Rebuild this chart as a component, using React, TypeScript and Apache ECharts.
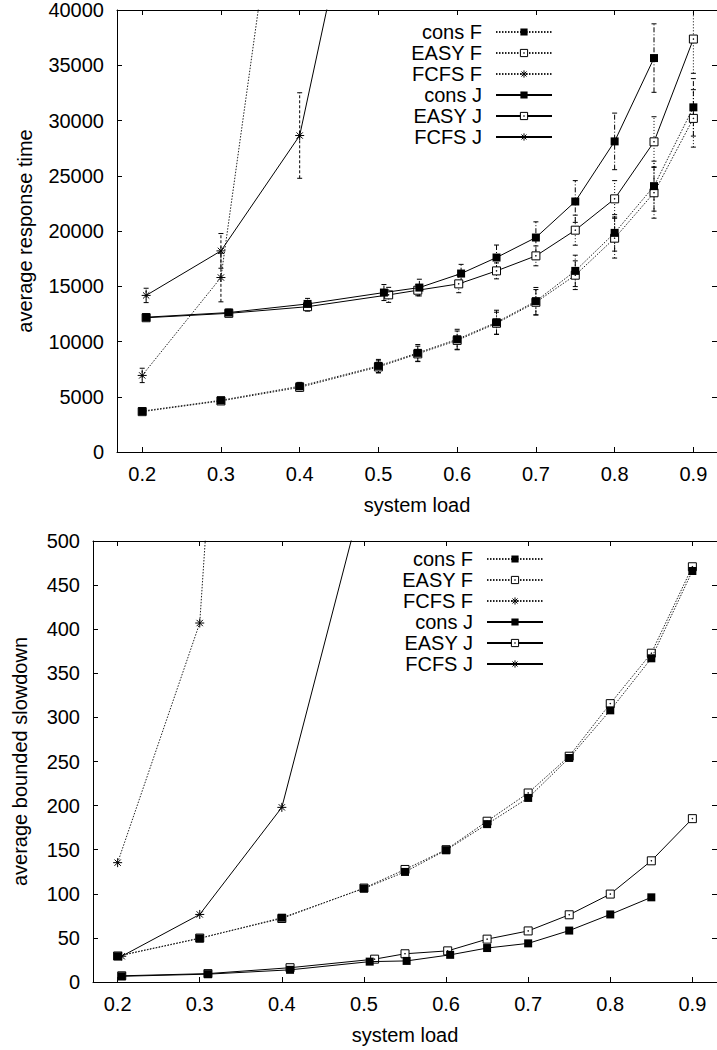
import React, { useEffect, useRef } from "react";
import * as echarts from "echarts";

// ---------- shared ----------
const seriesNames = ["cons F", "EASY F", "FCFS F", "cons J", "EASY J", "FCFS J"];
const xTickValues = [0.2, 0.3, 0.4, 0.5, 0.6, 0.7, 0.8, 0.9];

const xConsF = [0.2, 0.3, 0.4, 0.5, 0.55, 0.6, 0.65, 0.7, 0.75, 0.8, 0.85, 0.9];
const xEasyF = [0.2, 0.3, 0.4, 0.5, 0.55, 0.6, 0.65, 0.7, 0.75, 0.8, 0.85, 0.9];
const xFcfsF = [0.2, 0.3, 0.4];
const xConsJ = [0.205, 0.31, 0.41, 0.507, 0.552, 0.605, 0.65, 0.7, 0.75, 0.8, 0.85];
const xEasyJ = [0.205, 0.31, 0.41, 0.513, 0.55, 0.602, 0.65, 0.7, 0.75, 0.8, 0.85, 0.9];
const xFcfsJ = [0.205, 0.3, 0.4, 0.5];

// ---------- top chart: average response time ----------
const rtConsF = [3700, 4680, 5950, 7790, 8970, 10200, 11740, 13650, 16390, 19830, 24060, 31190];
const rtConsFErr = [250, 250, 350, 590, 755, 905, 1090, 1240, 1420, 1650, 2260, 2600];
const rtEasyF = [3650, 4620, 5850, 7700, 8880, 10100, 11650, 13550, 16000, 19350, 23460, 30190];
const rtEasyFErr = [250, 250, 350, 550, 700, 850, 1000, 1150, 1300, 1800, 2300, 2600];
const rtFcfsF = [6930, 15790, 66900];
const rtFcfsFErr = [650, 2200, 8000];
const rtConsJ = [12200, 12620, 13400, 14430, 14880, 16150, 17600, 19410, 22670, 28110, 35650];
const rtConsJErr = [300, 300, 500, 725, 755, 830, 1130, 1420, 1890, 2560, 3100];
const rtEasyJ = [12150, 12550, 13150, 14220, 14640, 15215, 16390, 17750, 20075, 22910, 28070, 37370];
const rtEasyJErr = [300, 300, 400, 680, 500, 800, 720, 900, 1360, 1650, 2270, 3100];
const rtFcfsJ = [14170, 18200, 28640, 61760];
const rtFcfsJErr = [650, 1570, 3870, 6000];

// ---------- bottom chart: average bounded slowdown ----------
const sdConsF = [29.2, 49.4, 72.9, 106, 124.8, 149.5, 179, 208.7, 254, 308, 367, 466];
const sdEasyF = [29.5, 49.8, 72, 106.5, 127.6, 150, 182.3, 214.3, 256, 315.6, 372.8, 470.8];
const sdFcfsF = [135.3, 407, 1800];
const sdConsJ = [6.5, 8.9, 13.8, 23.1, 23.9, 30.8, 38.5, 43.8, 58.3, 76.6, 96];
const sdEasyJ = [7, 9.5, 16.2, 25.9, 32, 35.3, 48.6, 57.9, 76.2, 99.7, 137.4, 185.2];
const sdFcfsJ = [29.2, 76.6, 198, 556];

const FONT = "'Liberation Sans', Arial, Helvetica, sans-serif";
const OPEN_SQUARE = "path://M0,0L10,0L10,10L0,10Z M4.6,4.6L5.4,4.6L5.4,5.4L4.6,5.4Z";
const STAR = "path://M5,0L5,10M0,5L10,5M1.5,1.5L8.5,8.5M8.5,1.5L1.5,8.5";

type Kind = "cons" | "EASY" | "FCFS";

function markerStyle(kind: Kind) {
  if (kind === "cons") return { symbol: "rect", symbolSize: 8, itemStyle: { color: "#000" } };
  if (kind === "EASY")
    return {
      symbol: OPEN_SQUARE,
      symbolSize: 8,
      itemStyle: { color: "#fff", borderColor: "#000", borderWidth: 1 },
    };
  return {
    symbol: STAR,
    symbolSize: 9,
    itemStyle: { color: "rgba(0,0,0,0)", borderColor: "#000", borderWidth: 1 },
  };
}

function lineSeries(name: string, kind: Kind, dotted: boolean, xs: number[], ys: number[], axis: number) {
  return {
    type: "line",
    name,
    xAxisIndex: axis * 2,
    yAxisIndex: axis * 2,
    data: xs.map((x, i) => [x, ys[i]]),
    ...markerStyle(kind),
    showAllSymbol: true,
    clip: true,
    silent: true,
    z: kind === "cons" ? 4 : 3,
    emphasis: { disabled: true },
    lineStyle: dotted
      ? { color: "#222", width: 1, type: [1.5, 1.5] }
      : { color: "#000", width: 1, type: "solid" },
  };
}

function errorSeries(id: string, xs: number[], ys: number[], errs: number[], dash: number[]) {
  return {
    type: "custom",
    name: id,
    xAxisIndex: 0,
    yAxisIndex: 0,
    clip: true,
    silent: true,
    z: 2,
    data: xs.map((x, i) => [x, ys[i] - errs[i], ys[i] + errs[i]]),
    encode: { x: 0, y: [1, 2] },
    renderItem: (_params: any, api: any) => {
      const lo = api.coord([api.value(0), api.value(1)]);
      const hi = api.coord([api.value(0), api.value(2)]);
      const w = 2.5;
      return {
        type: "group",
        children: [
          {
            type: "line",
            shape: { x1: lo[0], y1: lo[1], x2: hi[0], y2: hi[1] },
            style: { stroke: "#000", lineWidth: 1, lineDash: dash },
          },
          {
            type: "line",
            shape: { x1: lo[0] - w, y1: lo[1], x2: lo[0] + w, y2: lo[1] },
            style: { stroke: "#000", lineWidth: 1 },
          },
          {
            type: "line",
            shape: { x1: hi[0] - w, y1: hi[1], x2: hi[0] + w, y2: hi[1] },
            style: { stroke: "#000", lineWidth: 1 },
          },
        ],
      };
    },
  };
}

function xAxes(gridIndex: number, min: number, max: number, name: string) {
  const common = {
    type: "value",
    gridIndex,
    min,
    max,
    splitLine: { show: false },
    axisLine: { show: true, onZero: false, lineStyle: { color: "#000", width: 1 } },
    axisTick: { show: true, inside: true, length: 5, customValues: xTickValues, lineStyle: { color: "#000" } },
  };
  return [
    {
      ...common,
      position: "bottom",
      axisLabel: {
        show: true,
        customValues: xTickValues,
        formatter: (v: number) => v.toFixed(1),
        color: "#000",
        fontSize: 20,
        fontFamily: FONT,
        margin: 12,
      },
      name,
      nameLocation: "middle",
      nameGap: 43,
      nameTextStyle: { color: "#000", fontSize: 20, fontFamily: FONT },
    },
    { ...common, position: "top", axisLabel: { show: false } },
  ];
}

function yAxes(gridIndex: number, max: number, interval: number, name: string, nameGap: number) {
  const common = {
    type: "value",
    gridIndex,
    min: 0,
    max,
    interval,
    splitLine: { show: false },
    axisTick: { show: true, inside: true, length: 5, lineStyle: { color: "#000" } },
  };
  return [
    {
      ...common,
      position: "left",
      axisLine: { show: true, onZero: false, lineStyle: { color: "#000", width: 1 } },
      axisLabel: {
        show: true,
        color: "#000",
        fontSize: 20,
        fontFamily: FONT,
        margin: 13,
        formatter: (v: number) => String(v),
      },
      name,
      nameLocation: "middle",
      nameGap,
      nameTextStyle: { color: "#000", fontSize: 20, fontFamily: FONT },
    },
    {
      ...common,
      position: "right",
      axisLine: { show: false },
      axisLabel: { show: false },
    },
  ];
}

function legend(right: number, top: number) {
  return {
    show: true,
    data: seriesNames,
    orient: "vertical",
    align: "right",
    right,
    top,
    padding: 0,
    itemGap: 0,
    itemWidth: 56,
    itemHeight: 9,
    selectedMode: false,
    itemStyle: { borderWidth: 1 },
    textStyle: {
      color: "#000",
      fontSize: 20,
      fontFamily: FONT,
      lineHeight: 21,
      padding: [0, 9, 0, 0],
    },
  };
}

export default function App() {
  const ref = useRef<HTMLDivElement>(null);

  useEffect(() => {
    if (!ref.current) return;
    const chart = echarts.init(ref.current, undefined, { renderer: "svg" });

    const topSeries = [
      errorSeries("e1", xConsF, rtConsF, rtConsFErr, [5, 2, 1, 2]),
      errorSeries("e2", xEasyF, rtEasyF, rtEasyFErr, [1, 2]),
      errorSeries("e3", xFcfsF, rtFcfsF, rtFcfsFErr, [3, 2]),
      errorSeries("e4", xConsJ, rtConsJ, rtConsJErr, [5, 2, 1, 2]),
      errorSeries("e5", xEasyJ, rtEasyJ, rtEasyJErr, [1, 2]),
      errorSeries("e6", xFcfsJ, rtFcfsJ, rtFcfsJErr, [3, 2]),
      lineSeries("cons F", "cons", true, xConsF, rtConsF, 0),
      lineSeries("EASY F", "EASY", true, xEasyF, rtEasyF, 0),
      lineSeries("FCFS F", "FCFS", true, xFcfsF, rtFcfsF, 0),
      lineSeries("cons J", "cons", false, xConsJ, rtConsJ, 0),
      lineSeries("EASY J", "EASY", false, xEasyJ, rtEasyJ, 0),
      lineSeries("FCFS J", "FCFS", false, xFcfsJ, rtFcfsJ, 0),
    ];
    const bottomSeries = [
      lineSeries("cons F", "cons", true, xConsF, sdConsF, 1),
      lineSeries("EASY F", "EASY", true, xEasyF, sdEasyF, 1),
      lineSeries("FCFS F", "FCFS", true, xFcfsF, sdFcfsF, 1),
      lineSeries("cons J", "cons", false, xConsJ, sdConsJ, 1),
      lineSeries("EASY J", "EASY", false, xEasyJ, sdEasyJ, 1),
      lineSeries("FCFS J", "FCFS", false, xFcfsJ, sdFcfsJ, 1),
    ];

    chart.setOption({
      animation: false,
      backgroundColor: "#fff",
      textStyle: { fontFamily: FONT, color: "#000" },
      grid: [
        { left: 117, top: 10, width: 600, height: 442 },
        { left: 93, top: 541, width: 625, height: 441 },
      ],
      xAxis: [...xAxes(0, 0.168, 0.93, "system load"), ...xAxes(1, 0.17, 0.93, "system load")],
      yAxis: [
        ...yAxes(0, 40000, 5000, "average response time", 82),
        ...yAxes(1, 500, 50, "average bounded slowdown", 63),
      ],
      legend: [legend(164, 21.5), legend(173, 548.5)],
      series: [...topSeries, ...bottomSeries],
    });

    return () => chart.dispose();
  }, []);

  return (
    <div
      ref={ref}
      style={{ position: "absolute", left: 0, top: 0, width: 717, height: 1050, background: "#fff" }}
    />
  );
}
